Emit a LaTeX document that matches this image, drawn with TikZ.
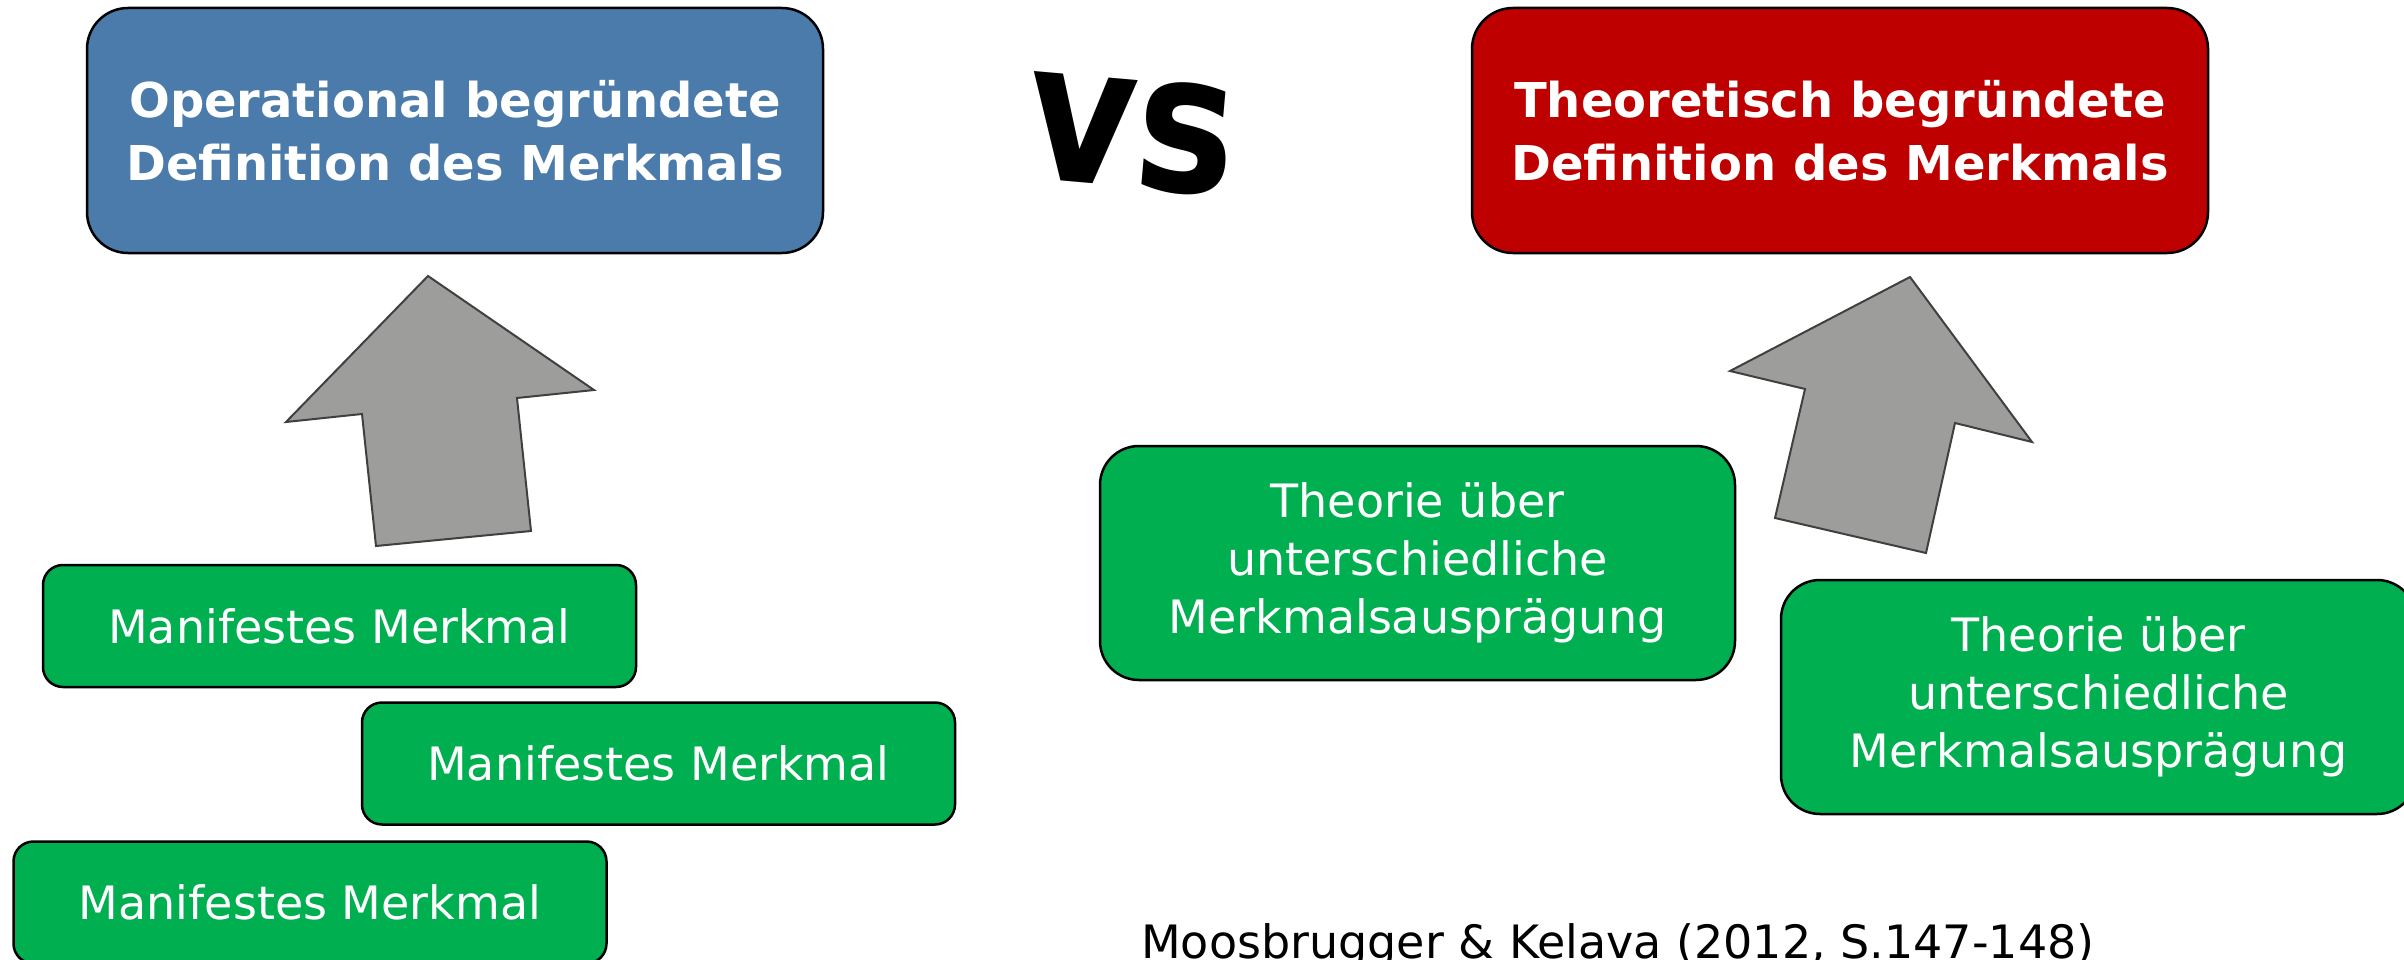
\documentclass[tikz,border=0pt]{standalone}
\usepackage{fontspec}
\setmainfont{DejaVu Sans}
\definecolor{defblue}{HTML}{4A7BAB}
\definecolor{defred}{HTML}{BE0000}
\definecolor{featgreen}{HTML}{00AF50}
\definecolor{arrowgray}{HTML}{9D9D9B}
\definecolor{arrowedge}{HTML}{404040}
\begin{document}
\begin{tikzpicture}[x=1pt,y=-1pt,
  headbox/.style={draw=black, line width=2.5pt, text=white, align=center,
    minimum width=736pt, minimum height=245pt, rounded corners=41pt,
    inner sep=0pt, font=\fontsize{48}{63}\selectfont\bfseries},
  featbox/.style={draw=black, line width=2.5pt, fill=featgreen, text=white,
    minimum width=593pt, minimum height=122pt, rounded corners=20pt,
    inner sep=0pt, font=\fontsize{46}{58}\selectfont},
  theorybox/.style={draw=black, line width=2.5pt, fill=featgreen, text=white,
    align=center, minimum width=635pt, minimum height=234pt,
    rounded corners=39pt, inner sep=0pt, font=\fontsize{46}{58}\selectfont},
  blockarrow/.style={fill=arrowgray, draw=arrowedge, line width=2pt, line join=miter}]
\useasboundingbox (0,0) rectangle (2404,960);

% definition boxes
\node[headbox, fill=defblue] (opdef) at (455,130.5)
  {Operational begründete\\Definition des Merkmals};
\node[headbox, fill=defred] (thdef) at (1840,130.5)
  {Theoretisch begründete\\Definition des Merkmals};

% versus sign
\node[font=\fontsize{195}{195}\selectfont\bfseries, rotate=-5,
  inner sep=0pt] (versus) at (1131,134) {\scalebox{0.86}[1]{vs}};

% block arrows
\draw[blockarrow] (428,276) -- (594,390) -- (517,398) -- (531,531)
  -- (376,546) -- (362,414) -- (286,422) -- cycle;
\draw[blockarrow] (1910,277) -- (2032,442) -- (1955,423) -- (1926,553)
  -- (1775,518) -- (1805,389) -- (1730,371) -- cycle;

% manifest features
\node[featbox] (m1) at (339.5,626) {Manifestes Merkmal};
\node[featbox] (m2) at (658.5,763.5) {Manifestes Merkmal};
\node[featbox] (m3) at (310,902.5) {Manifestes Merkmal};

% theories
\node[theorybox] (t1) at (1417.5,563)
  {Theorie über\\unterschiedliche\\Merkmalsausprägung};
\node[theorybox] (t2) at (2098.5,697)
  {Theorie über\\unterschiedliche\\Merkmalsausprägung};

% source
\node[anchor=base west, inner sep=0pt, font=\fontsize{46}{58}\selectfont]
  (source) at (1141,958) {Moosbrugger \& Kelava (2012, S.147-148)};
\end{tikzpicture}
\end{document}
